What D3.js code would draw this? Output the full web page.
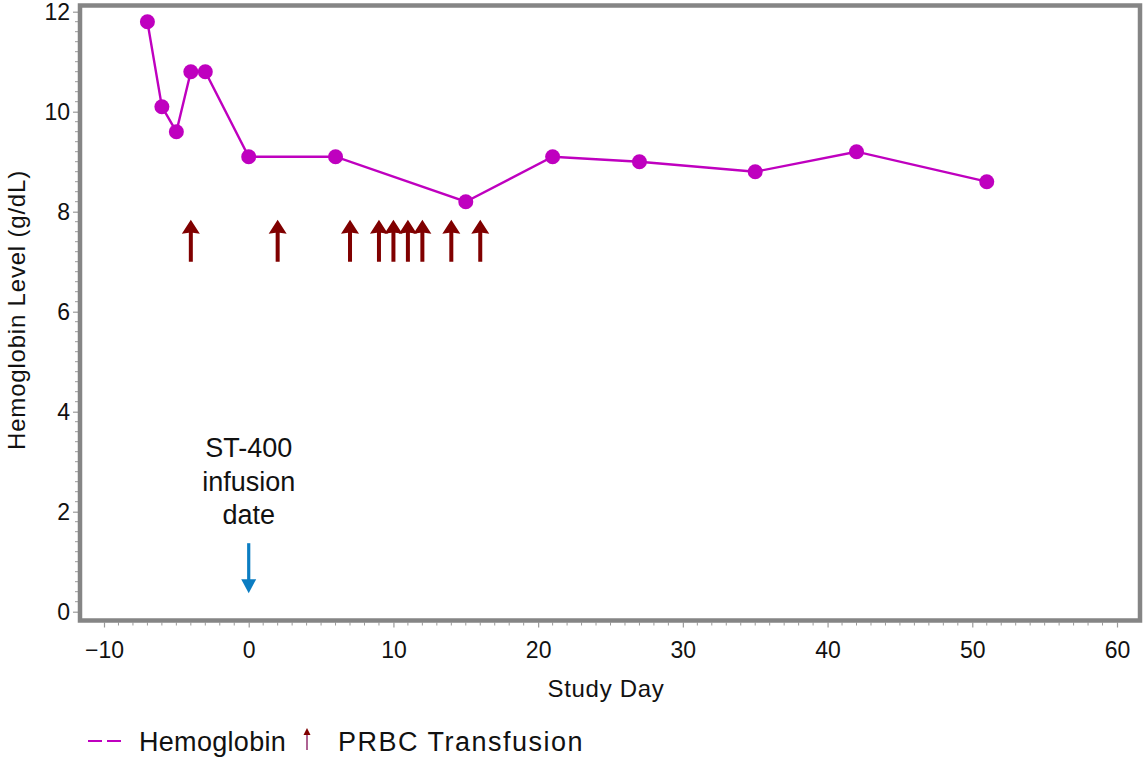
<!DOCTYPE html>
<html>
<head>
<meta charset="utf-8">
<script src="https://cdn.jsdelivr.net/npm/d3@7"></script>
<style>
  html, body { margin: 0; padding: 0; background: #fff; }
  svg { display: block; }
  text { font-family: "Liberation Sans", Arial, sans-serif; fill: #111; }
</style>
</head>
<body>
<svg id="chart" width="1145" height="760"></svg>
<script>
// Hemoglobin measurements by study day
const hbDays = [-7, -6, -5, -4, -3, 0, 6, 15, 21, 27, 35, 42, 51];
const hbValues = [11.8, 10.1, 9.6, 10.8, 10.8, 9.1, 9.1, 8.2, 9.1, 9.0, 8.8, 9.2, 8.6];

// Days on which packed red blood cells were transfused
const transfusionDays = [-4, 2, 7, 9, 10, 11, 12, 14, 16];

// Axis ticks
const xTicks = [-10, 0, 10, 20, 30, 40, 50, 60];
const yTicks = [0, 2, 4, 6, 8, 10, 12];

// Infusion annotation
const infusionDay = 0;
const infusionLines = ["ST-400", "infusion", "date"];

const svg = d3.select("#chart");

const x = d3.scaleLinear().domain([-10, 60]).range([104, 1117]);
const y = d3.scaleLinear().domain([0, 12]).range([611.7, 11.7]);

const frame = { left: 80, top: 5.5, right: 1140, bottom: 620.5 };
const axisGray = "#858585";
const purple = "#BF00BF";
const darkRed = "#800000";
const blue = "#0B7DC2";

// Minor ticks along the bottom
const xMinor = d3.range(-10, 61, 1).filter(d => d % 10 !== 0);
svg.append("g").selectAll("line").data(xMinor).join("line")
  .attr("x1", d => x(d)).attr("x2", d => x(d))
  .attr("y1", frame.bottom + 2).attr("y2", frame.bottom + 5)
  .attr("stroke", "#9a9a9a").attr("stroke-width", 1);

// Major x axis via d3.axisBottom
const xAxis = svg.append("g")
  .attr("transform", `translate(0,${frame.bottom + 2})`)
  .call(d3.axisBottom(x).tickValues(xTicks).tickSize(5).tickPadding(14)
    .tickFormat(d => d < 0 ? "\u2212" + Math.abs(d) : d));
xAxis.select(".domain").remove();
xAxis.selectAll(".tick line").attr("stroke", "#9a9a9a").attr("stroke-width", 1.2);
xAxis.selectAll(".tick text").attr("font-size", 23)
  .style("font-family", "'Liberation Sans', Arial, sans-serif").attr("fill", "#111");

// Minor ticks along the left side
const yMinor = d3.range(0, 12.01, 0.2).map(v => +v.toFixed(1)).filter(v => Math.abs(v % 2) > 1e-6 && Math.abs(v % 2 - 2) > 1e-6);
svg.append("g").selectAll("line").data(yMinor).join("line")
  .attr("x1", frame.left - 2).attr("x2", frame.left - 5)
  .attr("y1", d => y(d)).attr("y2", d => y(d))
  .attr("stroke", "#9a9a9a").attr("stroke-width", 1);

const yAxis = svg.append("g")
  .attr("transform", `translate(${frame.left - 2},0)`)
  .call(d3.axisLeft(y).tickValues(yTicks).tickSize(5).tickPadding(3));
yAxis.select(".domain").remove();
yAxis.selectAll(".tick line").attr("stroke", "#9a9a9a").attr("stroke-width", 1.2);
yAxis.selectAll(".tick text").attr("font-size", 23)
  .style("font-family", "'Liberation Sans', Arial, sans-serif").attr("fill", "#111");

// Plot frame
svg.append("rect")
  .attr("x", frame.left).attr("y", frame.top)
  .attr("width", frame.right - frame.left).attr("height", frame.bottom - frame.top)
  .attr("fill", "none").attr("stroke", axisGray).attr("stroke-width", 4.5);

// Axis titles
svg.append("text")
  .attr("x", 606).attr("y", 697)
  .attr("text-anchor", "middle").attr("font-size", 24)
  .attr("letter-spacing", 0.7)
  .text("Study Day");

svg.append("text")
  .attr("transform", "translate(25,310) rotate(-90)")
  .attr("text-anchor", "middle").attr("font-size", 24)
  .attr("letter-spacing", 0.8)
  .text("Hemoglobin Level (g/dL)");

// Hemoglobin line and markers
const hb = hbDays.map((d, i) => ({ day: d, value: hbValues[i] }));
svg.append("path")
  .datum(hb)
  .attr("d", d3.line().x(d => x(d.day)).y(d => y(d.value)))
  .attr("fill", "none").attr("stroke", purple).attr("stroke-width", 2.4);

svg.append("g").selectAll("circle").data(hb).join("circle")
  .attr("cx", d => x(d.day)).attr("cy", d => y(d.value))
  .attr("r", 7.5).attr("fill", purple);

// Transfusion arrows (shaft from 7.0 up to the head, tip near 7.85)
function upArrow(g, cx, yBase, yTip, shaftW, headW, headH, color) {
  g.append("path")
    .attr("d", `M${cx - shaftW / 2},${yBase} L${cx - shaftW / 2},${yTip + headH - 1}
                L${cx - headW / 2},${yTip + headH} L${cx},${yTip} L${cx + headW / 2},${yTip + headH}
                L${cx + shaftW / 2},${yTip + headH - 1} L${cx + shaftW / 2},${yBase} Z`)
    .attr("fill", color);
}
const arrows = svg.append("g");
transfusionDays.forEach(d => {
  upArrow(arrows, x(d), y(7.0), y(7.84), 4, 18, 14, darkRed);
});

// Infusion marker: blue down arrow and its label
const ix = x(infusionDay);
const yTop = y(1.37), yTipBlue = y(0.37);
svg.append("line")
  .attr("x1", ix).attr("x2", ix).attr("y1", yTop).attr("y2", yTipBlue - 12)
  .attr("stroke", blue).attr("stroke-width", 3.2);
svg.append("path")
  .attr("d", `M${ix - 7.5},${yTipBlue - 14} L${ix + 7.5},${yTipBlue - 14} L${ix},${yTipBlue} Z`)
  .attr("fill", blue);

svg.append("g").selectAll("text").data(infusionLines).join("text")
  .attr("x", ix).attr("y", (d, i) => 457 + i * 33.5)
  .attr("text-anchor", "middle").attr("font-size", 27)
  .text(d => d);

// Legend
const lg = svg.append("g");
lg.append("line")
  .attr("x1", 88).attr("x2", 123).attr("y1", 741).attr("y2", 741)
  .attr("stroke", purple).attr("stroke-width", 2).attr("stroke-dasharray", "14,5");
lg.append("text").attr("x", 139).attr("y", 751).attr("font-size", 27)
  .attr("letter-spacing", 0.3).text("Hemoglobin");
lg.append("line")
  .attr("x1", 307).attr("x2", 307).attr("y1", 750).attr("y2", 733)
  .attr("stroke", "#9a3c78").attr("stroke-width", 1.6);
lg.append("path")
  .attr("d", "M303.5,735 L307,728 L310.5,735 Z").attr("fill", darkRed);
lg.append("text").attr("x", 338).attr("y", 751).attr("font-size", 27)
  .attr("letter-spacing", 1.5).text("PRBC Transfusion");
</script>
</body>
</html>
